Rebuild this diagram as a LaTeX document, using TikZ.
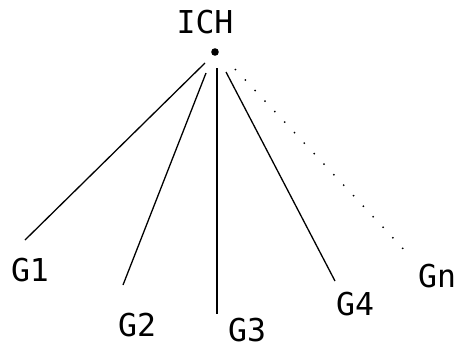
\documentclass[tikz,border=0pt]{standalone}
\usepackage{fontspec}
\newfontfamily\lblfont{DejaVu Sans Mono}
\begin{document}
\begin{tikzpicture}[x=1pt,y=-1pt,
  lbl/.style={font=\lblfont\fontsize{31.5}{31.5}\selectfont, inner sep=0pt, anchor=center},
  edge/.style={line width=1.3pt, black},
  dotedge/.style={line width=1.4pt, black, dash pattern=on 1.4pt off 13pt}]
\useasboundingbox (0,0) rectangle (457,351);
\node[lbl] (ich) at (205,22) {ICH};
\fill (215,52) circle (3.8);
\coordinate (root) at (215,52);
\coordinate (s1) at (205,63);
\coordinate (s2) at (206,73);
\coordinate (s3) at (217,68);
\coordinate (s4) at (226,72);
\coordinate (sn) at (235,69);
\coordinate (e1) at (25,240);
\coordinate (e2) at (123,285);
\coordinate (e3) at (217,314);
\coordinate (e4) at (335,281);
\coordinate (en) at (409,255);
\node[lbl] (g1) at (30,270) {G1};
\node[lbl] (g2) at (137,325) {G2};
\node[lbl] (g3) at (247,330) {G3};
\node[lbl] (g4) at (355,304) {G4};
\node[lbl] (gn) at (437,276) {Gn};
\draw[edge] (s1) -- (e1);
\draw[edge] (s2) -- (e2);
\draw[edge] (s3) -- (e3);
\draw[edge] (s4) -- (e4);
\draw[dotedge] (sn) -- (en);
\end{tikzpicture}
\end{document}
